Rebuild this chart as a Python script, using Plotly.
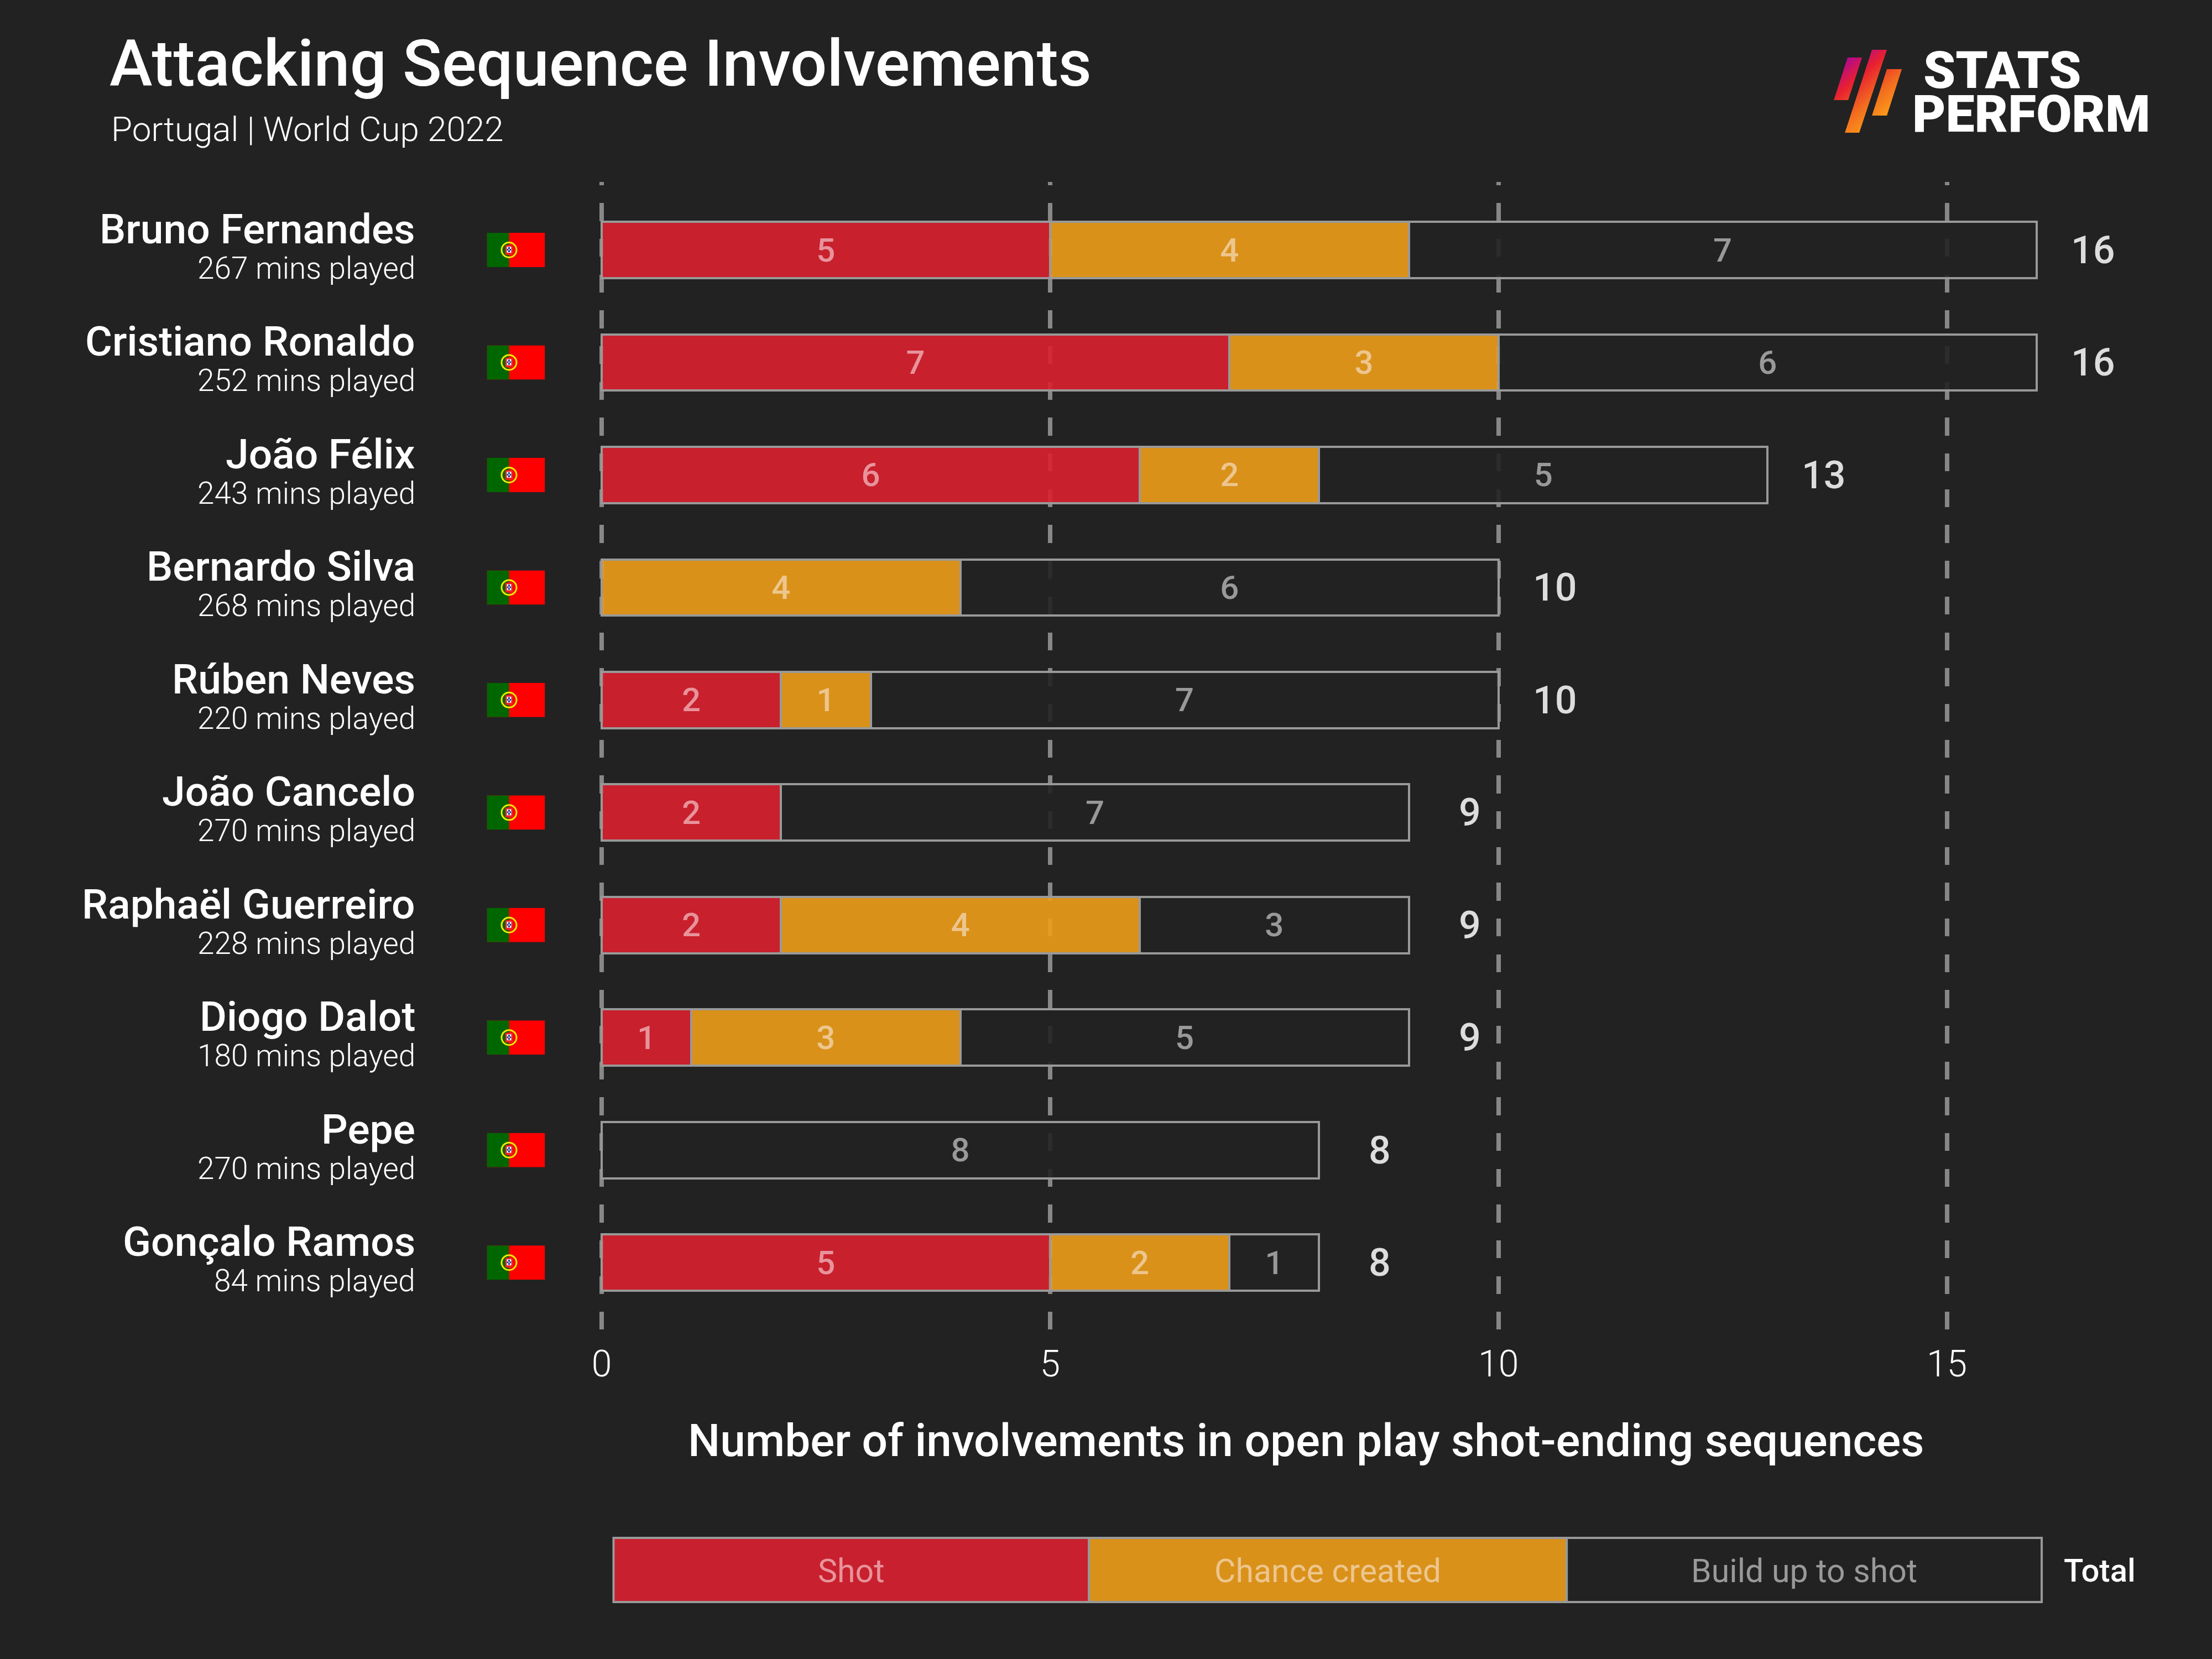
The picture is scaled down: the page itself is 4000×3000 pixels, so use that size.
import base64
import plotly.graph_objects as go

players = ["Bruno Fernandes", "Cristiano Ronaldo", "João Félix", "Bernardo Silva", "Rúben Neves",
           "João Cancelo", "Raphaël Guerreiro", "Diogo Dalot", "Pepe", "Gonçalo Ramos"]
minutes = [267, 252, 243, 268, 220, 270, 228, 180, 270, 84]
shots = [5, 7, 6, 0, 2, 2, 2, 1, 0, 5]
chances = [4, 3, 2, 4, 1, 0, 4, 3, 0, 2]
buildups = [7, 6, 5, 6, 7, 7, 3, 5, 8, 1]
totals = [16, 16, 13, 10, 10, 9, 9, 9, 8, 8]
series_names = ["Shot", "Chance created", "Build up to shot"]
x_ticks = [0, 5, 10, 15]

BG = "#222222"
RED, ORANGE, DARK = "#C8202E", "#D9911A", "#222222"
RED_A, ORANGE_A, DARK_A = "rgba(218,32,47,0.9)", "rgba(237,157,25,0.9)", "rgba(34,34,34,0.9)"
RED_T, ORANGE_T, DARK_T = "#E8939B", "#EDC68D", "#999999"
EDGE = "#999999"
FONT = "Roboto"

W, H = 4000, 3000
L, R, T, B = 987.5, 100, 329, 596
PW, PH = W - L - R, H - T - B
PX_PER_UNIT = 162.2
Y_RANGE = [9.594, -0.6046]


def px_x(px):
    return (px - L) / PW


def px_y(py):
    return 1 - (py - T) / PH


fig = go.Figure()
for name, vals, fill, tcol in [(series_names[0], shots, RED_A, RED_T),
                               (series_names[1], chances, ORANGE_A, ORANGE_T),
                               (series_names[2], buildups, DARK_A, DARK_T)]:
    fig.add_trace(go.Bar(
        name=name, y=players, x=vals, orientation="h", width=0.5,
        marker=dict(color=fill, line=dict(color=EDGE, width=4)),
        text=[str(v) if v else "" for v in vals],
        textposition="inside", insidetextanchor="middle", textangle=0,
        constraintext="none",
        textfont=dict(family=FONT, size=60, color=tcol, weight=500),
        showlegend=False,
    ))

annotations = []
for name, m, t in zip(players, minutes, totals):
    annotations.append(dict(x=0, y=name, xref="x", yref="y", xshift=-335, yshift=38, text=name,
                            showarrow=False, xanchor="right", yanchor="middle",
                            font=dict(family=FONT, size=75, color="white", weight=500)))
    annotations.append(dict(x=0, y=name, xref="x", yref="y", xshift=-335, yshift=-33, text=f"{m} mins played",
                            showarrow=False, xanchor="right", yanchor="middle",
                            font=dict(family=FONT, size=55, color="white", weight=300)))
    annotations.append(dict(x=t, y=name, xref="x", yref="y", xshift=102 if t >= 10 else 110, text=str(t),
                            showarrow=False, xanchor="center", yanchor="middle",
                            font=dict(family=FONT, size=70, color="#DDDDDD", weight=500)))


def text_at(px, py, text, size, color="white", weight=400, anchor="left"):
    annotations.append(dict(x=px_x(px), y=px_y(py), xref="paper", yref="paper", text=text,
                            showarrow=False, xanchor=anchor, yanchor="middle",
                            font=dict(family=FONT, size=size, color=color, weight=weight)))


text_at(195, 115, "Attacking Sequence Involvements", 117, weight=500)
text_at(198, 233, "Portugal | World Cup 2022", 62, weight=300)
text_at(2361, 2605, "Number of involvements in open play shot-ending sequences", 82, weight=500, anchor="center")
text_at(3621, 127, "STATS", 93, weight=900, anchor="center")
text_at(3673, 206, "PERFORM", 93, weight=900, anchor="center")

# custom legend strip
shapes = []
edges = [1109, 1969, 2833, 3692]
for i, (fill, tcol) in enumerate([(RED, RED_T), (ORANGE, ORANGE_T), (DARK, DARK_T)]):
    shapes.append(dict(type="rect", xref="paper", yref="paper",
                       x0=px_x(edges[i]), x1=px_x(edges[i + 1]), y0=px_y(2897), y1=px_y(2781),
                       fillcolor=fill, line=dict(color=EDGE, width=4)))
    text_at((edges[i] + edges[i + 1]) / 2, 2840, series_names[i], 59, color=tcol, anchor="center")
text_at(3797, 2840, "Total", 58, weight=500, anchor="center")

flag_svg = """<svg xmlns='http://www.w3.org/2000/svg' viewBox='0 0 105 62' preserveAspectRatio='none'>
<rect width='105' height='62' fill='#ff0000'/><rect width='40' height='62' fill='#006600'/>
<circle cx='40' cy='31' r='13.5' fill='none' stroke='#eeee00' stroke-width='3'/>
<rect x='33' y='22' width='14' height='18' rx='2' fill='#ee2020'/>
<rect x='36' y='25' width='8' height='11' fill='#ffffff'/>
<rect x='38.5' y='26' width='3' height='3' fill='#003399'/><rect x='38.5' y='32' width='3' height='3' fill='#003399'/>
<rect x='36.5' y='29' width='2.5' height='3' fill='#003399'/><rect x='41' y='29' width='2.5' height='3' fill='#003399'/>
</svg>"""
flag_src = "data:image/svg+xml;base64," + base64.b64encode(flag_svg.encode()).decode()
images = [dict(source=flag_src, xref="paper", yref="paper", x=px_x(880),
               y=(Y_RANGE[0] - i) / (Y_RANGE[0] - Y_RANGE[1]), sizex=105 / PW, sizey=62 / PH,
               xanchor="left", yanchor="middle", sizing="stretch", layer="above")
          for i in range(len(players))]

logo_svg = """<svg xmlns='http://www.w3.org/2000/svg' viewBox='0 0 130 150' preserveAspectRatio='none'>
<defs><linearGradient id='g' gradientUnits='userSpaceOnUse' x1='10' y1='10' x2='105' y2='125'>
<stop offset='0' stop-color='#A000B0'/><stop offset='0.35' stop-color='#E82030'/>
<stop offset='0.65' stop-color='#F26A20'/><stop offset='1' stop-color='#FFA815'/></linearGradient></defs>
<polygon points='25,14 51,14 26,91 0,91' fill='url(#g)'/>
<polygon points='69,0 96,0 46,150 20,150' fill='url(#g)'/>
<polygon points='96,35 123,35 96,119 69,119' fill='url(#g)'/>
</svg>"""
logo_src = "data:image/svg+xml;base64," + base64.b64encode(logo_svg.encode()).decode()
images.append(dict(source=logo_src, xref="paper", yref="paper", x=px_x(3316), y=px_y(90),
                   sizex=130 / PW, sizey=150 / PH, xanchor="left", yanchor="top", sizing="stretch", layer="above"))

fig.update_layout(
    width=W, height=H, barmode="stack", paper_bgcolor=BG, plot_bgcolor=BG,
    margin=dict(l=L, r=R, t=T, b=B, pad=0, autoexpand=False),
    font=dict(family=FONT, color="white"),
    annotations=annotations, shapes=shapes, images=images,
    xaxis=dict(range=[-100 / PX_PER_UNIT, (W - R - 1087.5) / PX_PER_UNIT], tickmode="array", tickvals=x_ticks,
               ticktext=[str(v) for v in x_ticks],
               showgrid=True, gridcolor="#878787", gridwidth=8, griddash="6px,32.34px,26.34px,0px", zeroline=False,
               showline=False, ticks="", tickfont=dict(family=FONT, size=66, color="white", weight=300),
               ticklabelstandoff=18),
    yaxis=dict(categoryorder="array", categoryarray=players, range=Y_RANGE,
               showgrid=False, zeroline=False, showline=False, showticklabels=False, ticks=""),
)
fig.write_html("out.html", config={"displayModeBar": False},
               post_script="document.body.style.margin='0';document.body.style.background='#222222';")
